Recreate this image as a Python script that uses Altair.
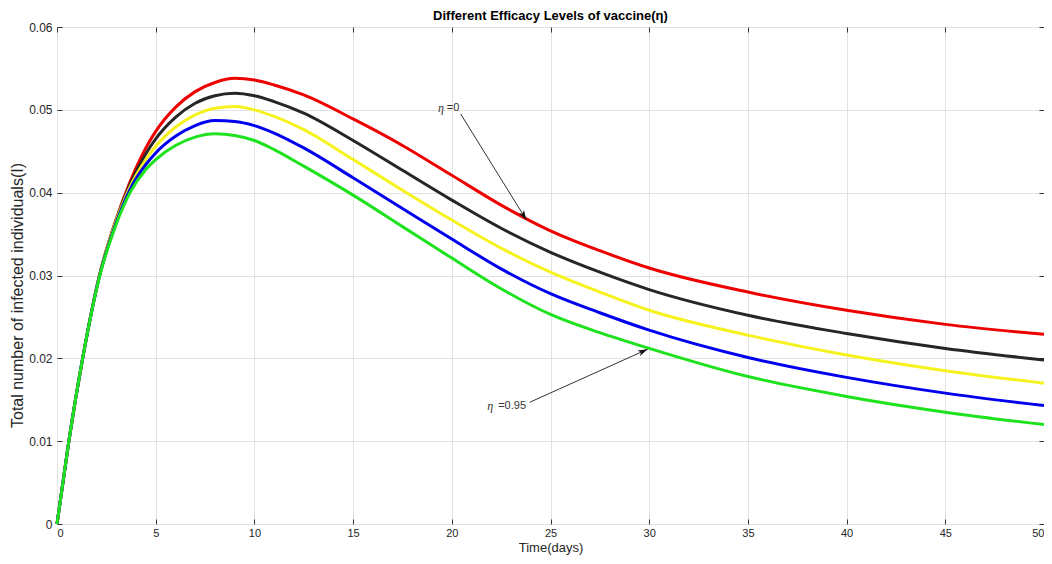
import math
import altair as alt
import pandas as pd

# ---------------- data ----------------
t = [0, 0.6, 1.3, 2.15, 3.0, 3.7, 4.5, 5, 6, 7, 8, 9, 10, 11, 12.5, 15, 17.5,
     20, 22.5, 25, 27.5, 30, 35, 40, 45, 50]

red = [0, 0.0100, 0.0200, 0.0300, 0.0368, 0.0413, 0.0454, 0.0474, 0.0503, 0.0522,
       0.0533, 0.0538, 0.0536, 0.0530, 0.0518, 0.0489, 0.0457, 0.0421, 0.0385,
       0.0354, 0.0330, 0.0309, 0.0280, 0.0258, 0.0241, 0.0229]
black = [0, 0.0100, 0.0200, 0.0300, 0.0367, 0.0410, 0.0447, 0.0465, 0.0491, 0.0508,
         0.0517, 0.0520, 0.0517, 0.0510, 0.0496, 0.0463, 0.0427, 0.0391, 0.0357,
         0.0328, 0.0304, 0.0283, 0.0252, 0.0230, 0.0212, 0.0198]
yellow = [0, 0.0100, 0.0200, 0.0300, 0.0366, 0.0407, 0.0440, 0.0456, 0.0479, 0.0494,
          0.0502, 0.0504, 0.0500, 0.0492, 0.0476, 0.0440, 0.0403, 0.0367, 0.0333,
          0.0304, 0.0280, 0.0258, 0.0228, 0.0204, 0.0185, 0.0170]
blue = [0, 0.0100, 0.0200, 0.0299, 0.0364, 0.0404, 0.0434, 0.0448, 0.0468, 0.0481,
        0.0487, 0.0486, 0.0481, 0.0472, 0.0454, 0.0418, 0.0381, 0.0344, 0.0308,
        0.0278, 0.0255, 0.0234, 0.0201, 0.0177, 0.0158, 0.0143]
green = [0, 0.0100, 0.0200, 0.0298, 0.0362, 0.0400, 0.0428, 0.0440, 0.0457, 0.0467,
         0.0471, 0.0469, 0.0463, 0.0452, 0.0432, 0.0397, 0.0359, 0.0321, 0.0284,
         0.0253, 0.0231, 0.0212, 0.0178, 0.0154, 0.0135, 0.0120]

series_names = ["red", "black", "yellow", "blue", "green"]
series_values = [red, black, yellow, blue, green]
series_colors = ["#ee0000", "#262626", "#f6f21e", "#0000ee", "#1fe21f"]

x_ticks = [0, 5, 10, 15, 20, 25, 30, 35, 40, 45, 50]
y_ticks = [0, 0.01, 0.02, 0.03, 0.04, 0.05, 0.06]

title_text = "Different Efficacy Levels of vaccine(η)"
x_title = "Time(days)"
y_title = "Total number of infected individuals(I)"

# annotations
ann_eta_x = [19.6, 22.1]
ann_eta_y = [0.0502, 0.0142]
ann_txt_x = [19.75, 22.35]
ann_txt_y = [0.0502, 0.0142]
ann_txt = ["=0", "=0.95"]
arrow_x1 = [20.45, 23.95]
arrow_y1 = [0.0495, 0.0147]
arrow_x2 = [23.78, 29.92]
arrow_y2 = [0.0367, 0.0211]

# ---------------- layout ----------------
W, H = 987, 497
FONT = "Liberation Sans"
xs = alt.Scale(domain=[0, 50], nice=False, zero=False)
ys = alt.Scale(domain=[0, 0.06], nice=False, zero=False)


def tick_axis(orient):
    vals = x_ticks if orient in ("top", "bottom") else y_ticks
    return alt.Axis(orient=orient, offset=-5, tickSize=5, ticks=True, labels=False,
                    domain=False, grid=False, title=None, values=vals,
                    tickColor="#333333", tickWidth=1)


layers = []
for i, (name, vals, col) in enumerate(zip(series_names, series_values, series_colors)):
    df = pd.DataFrame({"t": t, "v": vals})
    if i == 0:
        xa = alt.Axis(orient="bottom", values=x_ticks, title=x_title, ticks=False,
                      domain=False, grid=True, gridColor="#e2e2e2", labelPadding=3,
                      titlePadding=3, format="~g", labelFontSize=11, titleFontSize=13)
        ya = alt.Axis(orient="left", values=y_ticks, title=y_title, ticks=False,
                      domain=False, grid=True, gridColor="#e2e2e2", labelPadding=5,
                      titlePadding=3, format="~g", labelFontSize=12, titleFontSize=16,
                      titleY=268)
    else:
        xa = None
        ya = None
    layers.append(
        alt.Chart(df).mark_line(color=col, strokeWidth=3, interpolate="monotone")
        .encode(x=alt.X("t:Q", scale=xs, axis=xa), y=alt.Y("v:Q", scale=ys, axis=ya))
    )

# arrows
px_x = W / 50.0
px_y = H / 0.06
angles = []
for a, b, c, d in zip(arrow_x1, arrow_y1, arrow_x2, arrow_y2):
    dx = (c - a) * px_x
    dy = -(d - b) * px_y
    angles.append(math.degrees(math.atan2(dx, -dy)) % 360)

arr = pd.DataFrame({"x1": arrow_x1, "y1": arrow_y1, "x2": arrow_x2, "y2": arrow_y2,
                    "ang": angles})

rule1 = alt.Chart(arr.iloc[[0]]).mark_rule(color="#333333", strokeWidth=1).encode(
    x=alt.X("x1:Q", scale=xs, axis=tick_axis("bottom")),
    y=alt.Y("y1:Q", scale=ys, axis=tick_axis("left")),
    x2="x2:Q", y2="y2:Q")
rule2 = alt.Chart(arr.iloc[[1]]).mark_rule(color="#333333", strokeWidth=1).encode(
    x=alt.X("x1:Q", scale=xs, axis=tick_axis("top")),
    y=alt.Y("y1:Q", scale=ys, axis=tick_axis("right")),
    x2="x2:Q", y2="y2:Q")

heads = alt.Chart(arr).mark_point(
    shape="M0,0L-0.32,1L0,0.75L0.32,1Z", filled=True, size=380, color="#111111",
    opacity=1, strokeWidth=0
).encode(
    x=alt.X("x2:Q", scale=xs, axis=None),
    y=alt.Y("y2:Q", scale=ys, axis=None),
    angle=alt.Angle("ang:Q", scale=None),
)

eta_df = pd.DataFrame({"x": ann_eta_x, "y": ann_eta_y, "s": ["η", "η"]})
txt_df = pd.DataFrame({"x": ann_txt_x, "y": ann_txt_y, "s": ann_txt})

eta_text = alt.Chart(eta_df).mark_text(
    align="right", baseline="middle", font="Liberation Serif", fontStyle="italic",
    fontSize=12, color="#333333"
).encode(x=alt.X("x:Q", scale=xs, axis=None), y=alt.Y("y:Q", scale=ys, axis=None),
         text="s:N")
rest_text = alt.Chart(txt_df).mark_text(
    align="left", baseline="middle", font=FONT, fontSize=11, color="#333333"
).encode(x=alt.X("x:Q", scale=xs, axis=None), y=alt.Y("y:Q", scale=ys, axis=None),
         text="s:N")

chart = (
    alt.layer(*layers, rule1, rule2, heads, eta_text, rest_text)
    .resolve_scale(x="shared", y="shared")
    .resolve_axis(x="independent", y="independent")
    .properties(
        width=W, height=H,
        autosize=alt.AutoSizeParams(type="none"),
        padding={"left": 49, "top": 19, "right": 0, "bottom": 32},
        title=alt.TitleParams(title_text, font=FONT, fontSize=13, fontWeight="bold",
                              color="#000000", offset=-2, anchor="middle",
                              frame="group"),
        background="white",
    )
    .configure_view(stroke="#555555", strokeWidth=1)
    .configure_axis(labelFont=FONT, labelColor="#262626",
                    titleFont=FONT, titleFontWeight="normal",
                    titleColor="#262626")
)

chart.save("out.html", embed_options={"renderer": "svg", "actions": False})
